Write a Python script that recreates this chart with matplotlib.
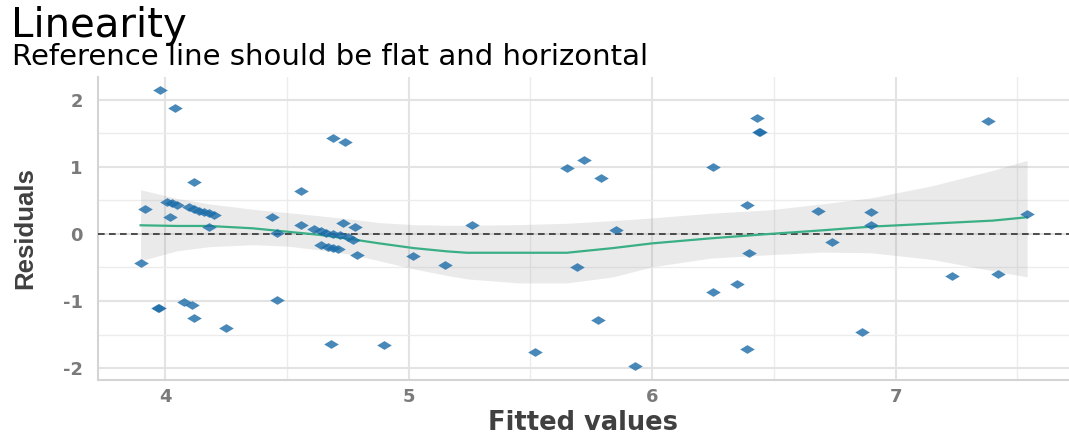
import matplotlib
matplotlib.use('Agg')
import matplotlib.pyplot as plt
from matplotlib import font_manager as fm
import numpy as np

plt.rcParams['axes.unicode_minus'] = False

# residuals vs fitted values
fitted = [3.98, 4.04, 4.69, 4.74, 4.12, 4.56, 3.92, 4.01, 4.03, 4.05, 4.10, 4.12,
          4.14, 4.16, 4.18, 4.20, 4.02, 4.18, 4.44, 4.46, 4.56, 4.73, 4.78, 4.61,
          4.64, 4.66, 4.69, 4.72, 4.75, 4.77, 4.64, 4.67, 4.69, 4.71, 4.79, 3.90,
          4.08, 4.11, 3.97, 3.975, 4.12, 4.25, 4.46, 4.68, 4.90, 5.65, 5.72, 5.79,
          5.26, 5.85, 5.02, 5.15, 5.69, 5.78, 5.52, 5.93, 6.43, 6.44, 6.445, 6.25,
          7.38, 6.39, 6.68, 6.90, 6.90, 7.54, 6.74, 6.40, 6.25, 6.35, 7.23, 7.42,
          6.86, 6.39]
residuals = [2.15, 1.88, 1.44, 1.38, 0.78, 0.64, 0.37, 0.48, 0.46, 0.43, 0.41, 0.37,
             0.35, 0.33, 0.31, 0.29, 0.25, 0.11, 0.25, 0.02, 0.13, 0.16, 0.11, 0.07,
             0.05, 0.02, 0.00, -0.02, -0.04, -0.09, -0.16, -0.19, -0.21, -0.23, -0.31, -0.43,
             -1.02, -1.06, -1.11, -1.105, -1.26, -1.40, -0.99, -1.64, -1.66, 0.98, 1.11, 0.84,
             0.14, 0.06, -0.33, -0.46, -0.50, -1.29, -1.76, -1.97, 1.73, 1.52, 1.515, 1.00,
             1.69, 0.43, 0.35, 0.33, 0.13, 0.30, -0.12, -0.29, -0.86, -0.75, -0.62, -0.60,
             -1.47, -1.71]

# loess smooth and its confidence band
smooth_x = [3.90, 4.05, 4.18, 4.36, 4.50, 4.64, 4.77, 4.88, 5.02, 5.16, 5.24,
            5.45, 5.65, 5.84, 6.00, 6.24, 6.48, 6.70, 6.90, 7.15, 7.40, 7.54]
smooth_y = [0.13, 0.12, 0.12, 0.085, 0.035, -0.015, -0.08, -0.14, -0.21, -0.26, -0.28,
            -0.28, -0.28, -0.21, -0.14, -0.065, 0.0, 0.055, 0.11, 0.155, 0.20, 0.25]
smooth_hi = [0.66, 0.53, 0.45, 0.37, 0.32, 0.27, 0.22, 0.17, 0.14, 0.13, 0.13,
             0.14, 0.16, 0.20, 0.24, 0.31, 0.36, 0.45, 0.54, 0.72, 0.95, 1.10]
smooth_lo = [-0.40, -0.25, -0.19, -0.16, -0.18, -0.24, -0.31, -0.40, -0.52, -0.62, -0.67,
             -0.73, -0.73, -0.64, -0.49, -0.36, -0.31, -0.27, -0.28, -0.38, -0.55, -0.64]

x_ticks = [4, 5, 6, 7]
y_ticks = [-2, -1, 0, 1, 2]

names = {f.name for f in fm.fontManager.ttflist}
narrow = 'Liberation Sans Narrow' if 'Liberation Sans Narrow' in names else 'Liberation Sans'

W, H = 1069, 436
fig = plt.figure(figsize=(W / 100, H / 100), dpi=100)
ax = fig.add_axes([98 / W, 1 - 380 / H, (W - 98) / W, (380 - 77) / H])

ax.set_xticks(x_ticks)
ax.set_yticks(y_ticks)
ax.set_xticks(np.arange(3.5, 8.0, 0.5), minor=True)
ax.set_yticks(np.arange(-2.5, 2.6, 0.5), minor=True)
ax.set_xlim(3.725, 7.712)
ax.set_ylim(-2.179, 2.343)
ax.grid(which='major', color='#e3e3e3', lw=1.5)
ax.grid(which='minor', color='#ececec', lw=1.0)
ax.set_axisbelow(True)

ax.fill_between(smooth_x, smooth_lo, smooth_hi, color='#999999', alpha=0.2, lw=0, zorder=2)
ax.axhline(0, color='#333333', lw=1.2, ls=(0, (4, 2.6)), zorder=3)
ax.plot(smooth_x, smooth_y, color='#3aaf85', lw=1.6, zorder=4)

diamond = [(-1, 0), (0, 0.6), (1, 0), (0, -0.6), (-1, 0)]
ax.plot(fitted, residuals, ls='none', marker=diamond, ms=10.5, mew=0,
        color='#1b6ca8', alpha=0.8, zorder=5)

for side in ['top', 'right']:
    ax.spines[side].set_visible(False)
for side in ['left', 'bottom']:
    ax.spines[side].set_color('#d4d4d4')
    ax.spines[side].set_linewidth(1.5)

ax.tick_params(which='both', length=0)
ax.tick_params(axis='x', pad=6, labelsize=13, labelcolor='#7a7a7a')
ax.tick_params(axis='y', pad=11, labelsize=13, labelcolor='#7a7a7a')
for lab in ax.get_xticklabels() + ax.get_yticklabels():
    lab.set_fontweight('bold')
    lab.set_family('DejaVu Sans')

ax.set_xlabel('Fitted values', fontsize=18.5, fontweight='bold', color='#404040',
              family='DejaVu Sans', va='baseline')
ax.xaxis.set_label_coords(0.5, -(430 - 380) / 303)
ax.set_ylabel('Residuals', fontsize=18.5, fontweight='bold', color='#404040',
              family=narrow, va='center')
ax.yaxis.set_label_coords((25 - 98) / 971, 0.5)

fig.text(11 / W, 1 - 37 / H, 'Linearity', fontsize=29, family='DejaVu Sans',
         va='baseline', color='black')
fig.text(12 / W, 1 - 65 / H, 'Reference line should be flat and horizontal',
         fontsize=21, family='DejaVu Sans', va='baseline', color='black')

fig.savefig('out.png', dpi=100, facecolor='white')
